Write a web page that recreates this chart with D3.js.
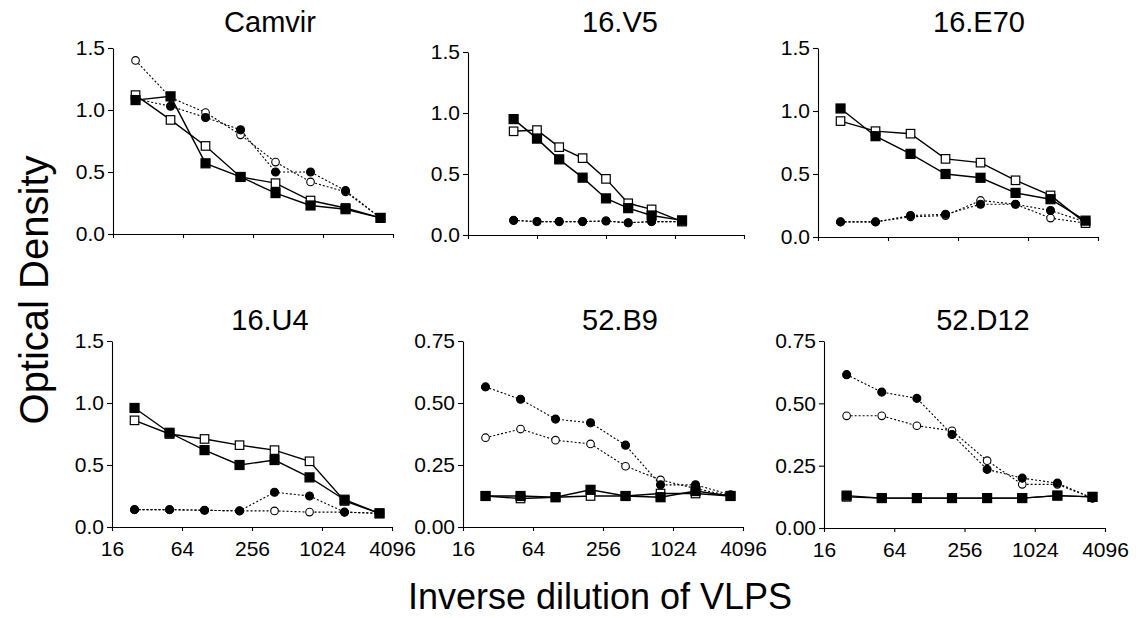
<!DOCTYPE html>
<html>
<head>
<meta charset="utf-8">
<script src="https://cdn.jsdelivr.net/npm/d3@7"></script>
<style>
  body { margin: 0; background: #fff; }
  svg text { font-family: "Liberation Sans", Arial, Helvetica, sans-serif; fill: #000; }
  .axis path, .axis line { stroke: #000; stroke-width: 1.1; }
</style>
</head>
<body>
<div id="chart"></div>
<script>
// dilution steps (inverse dilution of VLPs)
const dil = [25, 50, 100, 200, 400, 800, 1600, 3200];
const dilV5 = [40, 64, 100, 160, 256, 400, 640, 1180];

const xTicks = [16, 64, 256, 1024, 4096];
const yTicksHigh = [0, 0.5, 1.0, 1.5];
const yTicksLow = [0, 0.25, 0.5, 0.75];

const titles = ["Camvir", "16.V5", "16.E70", "16.U4", "52.B9", "52.D12"];

// optical density, one array per symbol: fs filled square, os open square,
// fc filled circle, oc open circle
const camvirFS = [1.08, 1.11, 0.57, 0.46, 0.33, 0.23, 0.20, 0.13];
const camvirOS = [1.12, 0.92, 0.71, 0.46, 0.41, 0.27, 0.21, 0.13];
const camvirFC = [1.09, 1.03, 0.94, 0.84, 0.50, 0.50, 0.35, 0.13];
const camvirOC = [1.40, 1.10, 0.98, 0.80, 0.58, 0.42, 0.34, 0.13];

const v5FS = [0.95, 0.79, 0.62, 0.47, 0.30, 0.22, 0.16, 0.12];
const v5OS = [0.85, 0.86, 0.72, 0.63, 0.46, 0.26, 0.21, 0.11];
const v5FC = [0.12, 0.11, 0.11, 0.11, 0.115, 0.10, 0.11, 0.11];
const v5OC = [0.12, 0.11, 0.11, 0.11, 0.115, 0.10, 0.11, 0.11];

const e70FS = [1.02, 0.80, 0.66, 0.50, 0.47, 0.35, 0.30, 0.13];
const e70OS = [0.92, 0.84, 0.82, 0.62, 0.59, 0.45, 0.33, 0.11];
const e70FC = [0.12, 0.12, 0.17, 0.18, 0.26, 0.26, 0.21, 0.12];
const e70OC = [0.12, 0.12, 0.16, 0.17, 0.29, 0.26, 0.15, 0.11];

const u4FS = [0.96, 0.76, 0.62, 0.50, 0.54, 0.40, 0.22, 0.11];
const u4OS = [0.86, 0.75, 0.71, 0.66, 0.62, 0.53, 0.21, 0.11];
const u4FC = [0.14, 0.14, 0.135, 0.13, 0.28, 0.25, 0.12, 0.11];
const u4OC = [0.14, 0.14, 0.135, 0.13, 0.13, 0.12, 0.12, 0.11];

const b9FS = [0.125, 0.125, 0.12, 0.15, 0.125, 0.12, 0.145, 0.125];
const b9OS = [0.125, 0.115, 0.12, 0.125, 0.125, 0.135, 0.135, 0.125];
const b9FC = [0.565, 0.515, 0.435, 0.42, 0.33, 0.17, 0.17, 0.13];
const b9OC = [0.36, 0.395, 0.35, 0.335, 0.245, 0.19, 0.155, 0.125];

const d12FS = [0.13, 0.12, 0.12, 0.12, 0.12, 0.12, 0.13, 0.125];
const d12OS = [0.125, 0.12, 0.12, 0.12, 0.12, 0.12, 0.13, 0.125];
const d12FC = [0.615, 0.545, 0.52, 0.375, 0.235, 0.20, 0.18, 0.12];
const d12OC = [0.45, 0.45, 0.41, 0.39, 0.27, 0.175, 0.175, 0.12];

const panels = [
  {title: titles[0], x: dil,   ymax: 1.5,  ticks: yTicksHigh, fs: camvirFS, os: camvirOS, fc: camvirFC, oc: camvirOC},
  {title: titles[1], x: dilV5, ymax: 1.5,  ticks: yTicksHigh, fs: v5FS,  os: v5OS,  fc: v5FC,  oc: v5OC},
  {title: titles[2], x: dil,   ymax: 1.5,  ticks: yTicksHigh, fs: e70FS, os: e70OS, fc: e70FC, oc: e70OC},
  {title: titles[3], x: dil,   ymax: 1.5,  ticks: yTicksHigh, fs: u4FS,  os: u4OS,  fc: u4FC,  oc: u4OC},
  {title: titles[4], x: dil,   ymax: 0.75, ticks: yTicksLow,  fs: b9FS,  os: b9OS,  fc: b9FC,  oc: b9OC},
  {title: titles[5], x: dil,   ymax: 0.75, ticks: yTicksLow,  fs: d12FS, os: d12OS, fc: d12FC, oc: d12OC}
];

// where each panel sits on the page (left, top of y range, bottom, width)
const boxes = [
  {left: 113, top: 48,  bottom: 234, w: 280, tx: 270},
  {left: 468, top: 52,  bottom: 235, w: 276, tx: 620},
  {left: 818, top: 48,  bottom: 237, w: 280, tx: 979},
  {left: 112, top: 341, bottom: 527, w: 280, tx: 270},
  {left: 463, top: 341, bottom: 527, w: 280, tx: 620},
  {left: 824, top: 341, bottom: 528, w: 281, tx: 983}
];

const svg = d3.select("#chart")
  .append("svg")
  .attr("width", 1138)
  .attr("height", 618);

panels.forEach((p, i) => {
  const b = boxes[i];
  const bottomRow = i >= 3;

  const x = d3.scaleLog().base(2).domain([16, 4096]).range([b.left, b.left + b.w]);
  const y = d3.scaleLinear().domain([0, p.ymax]).range([b.bottom, b.top]);
  const fmt = p.ymax > 1 ? d3.format(".1f") : d3.format(".2f");

  const g = svg.append("g");

  // axes
  g.append("g")
    .attr("class", "axis")
    .attr("transform", `translate(0,${b.bottom})`)
    .call(d3.axisBottom(x).tickValues(xTicks).tickSize(4).tickSizeOuter(0).tickPadding(10)
      .tickFormat(d => bottomRow ? d : ""))
    .call(a => a.selectAll("text").attr("font-size", 21).attr("font-family", null));

  g.append("g")
    .attr("class", "axis")
    .attr("transform", `translate(${b.left},0)`)
    .call(d3.axisLeft(y).tickValues(p.ticks).tickSize(5).tickSizeOuter(0).tickPadding(3).tickFormat(fmt))
    .call(a => a.selectAll("text").attr("font-size", 21).attr("font-family", null));

  // title
  g.append("text")
    .attr("x", b.tx)
    .attr("y", bottomRow ? 330 : 32)
    .attr("text-anchor", "middle")
    .attr("font-size", 29)
    .text(p.title);

  const line = d3.line()
    .x((d, j) => x(p.x[j]))
    .y(d => y(d));

  // circles (dotted) first, then squares (solid)
  [["oc", false], ["fc", true]].forEach(([key, filled]) => {
    g.append("path")
      .datum(p[key])
      .attr("d", line)
      .attr("fill", "none")
      .attr("stroke", "#000")
      .attr("stroke-width", 1.1)
      .attr("stroke-dasharray", "2,2");
    g.selectAll(null)
      .data(p[key])
      .enter()
      .append("circle")
      .attr("cx", (d, j) => x(p.x[j]))
      .attr("cy", d => y(d))
      .attr("r", filled ? 4 : 3.8)
      .attr("fill", filled ? "#000" : "#fff")
      .attr("stroke", "#000")
      .attr("stroke-width", 1.1);
  });

  [["os", false], ["fs", true]].forEach(([key, filled]) => {
    g.append("path")
      .datum(p[key])
      .attr("d", line)
      .attr("fill", "none")
      .attr("stroke", "#000")
      .attr("stroke-width", 1.4);
    const s = filled ? 9 : 8.5;
    g.selectAll(null)
      .data(p[key])
      .enter()
      .append("rect")
      .attr("x", (d, j) => x(p.x[j]) - s / 2)
      .attr("y", d => y(d) - s / 2)
      .attr("width", s)
      .attr("height", s)
      .attr("fill", filled ? "#000" : "#fff")
      .attr("stroke", "#000")
      .attr("stroke-width", 1.2);
  });
});

// shared axis titles
svg.append("text")
  .attr("transform", "translate(48,290) rotate(-90)")
  .attr("text-anchor", "middle")
  .attr("font-size", 40)
  .text("Optical Density");

svg.append("text")
  .attr("x", 600)
  .attr("y", 609)
  .attr("text-anchor", "middle")
  .attr("font-size", 36)
  .text("Inverse dilution of VLPS");
</script>
</body>
</html>
